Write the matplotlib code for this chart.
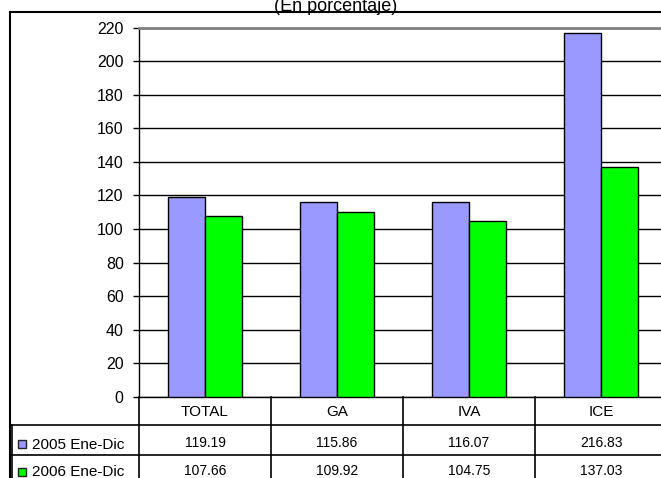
import matplotlib
matplotlib.use('Agg')
import matplotlib.pyplot as plt
import numpy as np
from matplotlib.transforms import blended_transform_factory
from matplotlib.patches import Rectangle

categories = ['TOTAL', 'GA', 'IVA', 'ICE']
series_names = ['2005 Ene-Dic', '2006 Ene-Dic']
values_2005 = [119.19, 115.86, 116.07, 216.83]
values_2006 = [107.66, 109.92, 104.75, 137.03]
labels_2005 = ['119.19', '115.86', '116.07', '216.83']
labels_2006 = ['107.66', '109.92', '104.75', '137.03']
yticks = [0, 20, 40, 60, 80, 100, 120, 140, 160, 180, 200, 220]
title = '(En porcentaje)'
colors = ['#9999FF', '#00FF00']

plt.rcParams['font.family'] = ['Liberation Sans', 'DejaVu Sans']

W, H = 661, 478
fig = plt.figure(figsize=(W / 100, H / 100), dpi=100)

def fx(px):
    return px / W

def fy(py):
    return 1 - py / H

ax_left, ax_right, ax_top, ax_bot = 139, 667, 27.5, 397
ax = fig.add_axes([fx(ax_left), fy(ax_bot), (ax_right - ax_left) / W, (ax_bot - ax_top) / H])

x = np.arange(len(categories))
w = 0.284
ax.bar(x - w / 2, values_2005, w, color=colors[0], edgecolor='black', linewidth=1.0, zorder=3)
ax.bar(x + w / 2, values_2006, w, color=colors[1], edgecolor='black', linewidth=1.0, zorder=3)

ax.set_xlim(-0.5, len(categories) - 0.5)
ax.set_ylim(yticks[0], yticks[-1])
ax.set_yticks(yticks)
ax.set_xticks([])
ax.yaxis.grid(True, color='black', linewidth=1.0)
ax.set_axisbelow(True)
ax.tick_params(axis='y', direction='out', length=4.5, width=1, labelsize=11.5, pad=6.5, colors='black')
ax.spines['right'].set_visible(False)
ax.spines['top'].set_color('#808080')
ax.spines['top'].set_linewidth(2)
ax.spines['left'].set_linewidth(1)
ax.spines['bottom'].set_linewidth(1)

# overlay in pixel coordinates
ov = fig.add_axes([0, 0, 1, 1])
ov.set_xlim(0, W)
ov.set_ylim(H, 0)
ov.axis('off')
ov.patch.set_alpha(0)

bt = blended_transform_factory(ax.transData, ov.transData)

# outer frame
ov.plot([9.5, 9.5], [12, H], color='black', lw=1.5)
ov.plot([9.5, W], [12, 12], color='black', lw=1.5)

# title
ov.text(336, 10.5, title, ha='center', va='baseline', fontsize=13)

# table lines
ov.plot([9.5, W], [425, 425], color='black', lw=1.2)
ov.plot([11.5, W], [455, 455], color='black', lw=1.2)
ov.plot([11.5, 11.5], [425, H], color='black', lw=1.2)
for b in np.arange(len(categories) + 1) - 0.5:
    ax.plot([b, b], [397, H], color='black', lw=1.2, transform=bt, clip_on=False)

# category labels and values
for i, c in enumerate(categories):
    ax.text(i, 416.5, c, ha='center', va='baseline', fontsize=11, transform=bt)
    ax.text(i, 447, labels_2005[i], ha='center', va='baseline', fontsize=10, transform=bt)
    ax.text(i, 475, labels_2006[i], ha='center', va='baseline', fontsize=10, transform=bt)

# row labels with legend keys
for name, col, yb, sq in [(series_names[0], colors[0], 449, 439.5), (series_names[1], colors[1], 475.5, 467.5)]:
    ov.add_patch(Rectangle((17.5, sq), 8, 8, facecolor=col, edgecolor='#222222', lw=1))
    ov.text(32, yb, name, ha='left', va='baseline', fontsize=11)

fig.savefig('out.png', dpi=100)
